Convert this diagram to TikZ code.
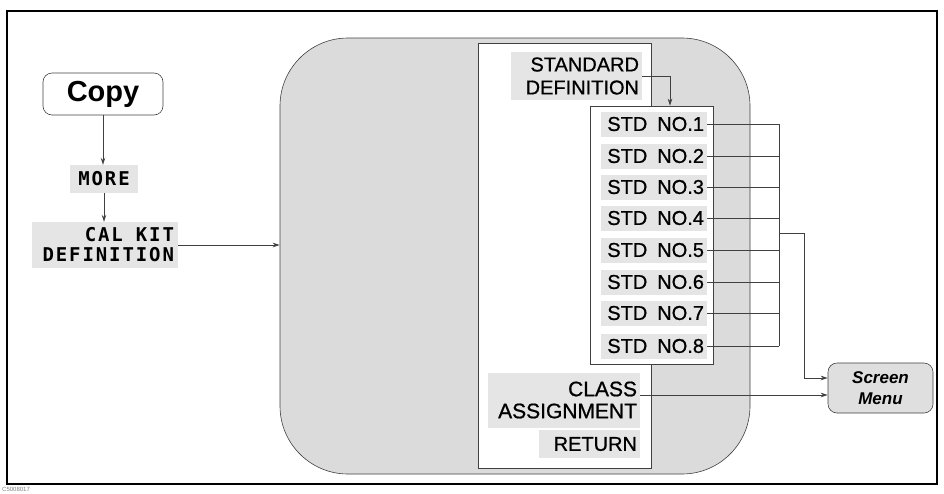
\documentclass[tikz,border=0pt]{standalone}
\usepackage{fontspec}
\setmainfont{Liberation Sans}
\newfontfamily\menufont[FakeBold=0.8]{Liberation Sans}
\newfontfamily\keyfont[LetterSpace=10]{DejaVu Sans Mono}
\usetikzlibrary{arrows.meta}

\tikzset{
  softkey/.style={fill=gray!20, inner xsep=3pt, inner ysep=1pt, align=right,
    font=\menufont\fontsize{20}{23}\selectfont},
  monokey/.style={fill=gray!20, inner xsep=4pt, inner ysep=1pt, align=right,
    font=\keyfont\bfseries\fontsize{19}{20}\selectfont},
  panel/.style={draw=black!75, line width=0.6pt},
  link/.style={draw=black!75, line width=0.8pt},
  arrow/.style={link, -{Stealth[length=7pt,width=4.5pt]}},
}

\begin{document}
\begin{tikzpicture}[x=1pt,y=-1pt]
    \useasboundingbox (0,0) rectangle (944,493);

    % Outer frame and figure number
    \draw[line width=2.6pt] (7,11) rectangle (937,484);
    \node[anchor=west, inner sep=0pt, text=gray, font=\fontsize{6}{7}\selectfont] (fignum) at (2,489) {C5008017};

    % Hardkey and the keys leading to the menu
    \node[panel, rounded corners=9pt, minimum width=120pt, minimum height=42pt,
      font=\bfseries\fontsize{29}{32}\selectfont] (copy) at (103,94) {Copy};
    \node[monokey, minimum width=68pt, minimum height=28pt, align=center] (more) at (104,179) {MORE};
    \node[monokey, text width=138pt, minimum height=46pt] (calkit) at (105,245) {CAL\hspace{13pt}KIT\\DEFINITION};

    % Menu panel
    \node[panel, fill=gray!28, rounded corners=68pt, minimum width=470pt, minimum height=436pt] (menupanel) at (515,256) {};
    \node[panel, fill=white, minimum width=173pt, minimum height=425pt] (menu) at (564.5,255.5) {};
    \node[panel, fill=white, minimum width=123pt, minimum height=258pt] (stdbox) at (651.5,235) {};

    \node[softkey, text width=125pt, minimum height=48pt] (stddef) at (576.5,76) {STANDARD\\DEFINITION};
    \foreach \i/\y in {1/124,2/156,3/187,4/218,5/250,6/282,7/313,8/346}
        \node[softkey, text width=100pt, minimum height=25pt] (std\i) at (654,\y) {STD\enspace NO.\i};
    \node[softkey, text width=146pt, minimum height=55pt, font=\menufont\fontsize{21}{22}\selectfont] (class) at (564,400) {CLASS\\ASSIGNMENT};
    \node[softkey, text width=95pt, minimum height=28pt] (return) at (589.5,444) {RETURN};

    % Screen menu
    \node[panel, fill=gray!25, rounded corners=9pt, minimum width=105pt, minimum height=50pt, align=center,
      font=\bfseries\itshape\fontsize{17}{21}\selectfont] (screen) at (880.5,388) {Screen\\Menu};

    % Connectors
    \coordinate (bus) at (779,0);
    \coordinate (drop) at (804,0);
    \coordinate (tap) at (779,233);

    \draw[arrow] (copy.south) -- (copy.south |- more.north);
    \draw[arrow] (more.south) -- (more.south |- calkit.north);
    \draw[arrow] (calkit.east) -- (calkit.east -| menupanel.west);
    \draw[arrow] (stddef.east) -| ([xshift=18.5pt]stdbox.north);

    \foreach \i in {1,...,8}
        \draw[link] (std\i.east) -- (std\i.east -| bus);
    \draw[link] (std1.east -| bus) -- (std8.east -| bus);
    \draw[arrow] (tap) -- (drop |- tap) |- ([yshift=10pt]screen.west);
    \draw[arrow] ([yshift=5pt]class.east) -- ([yshift=-7pt]screen.west);
\end{tikzpicture}
\end{document}
